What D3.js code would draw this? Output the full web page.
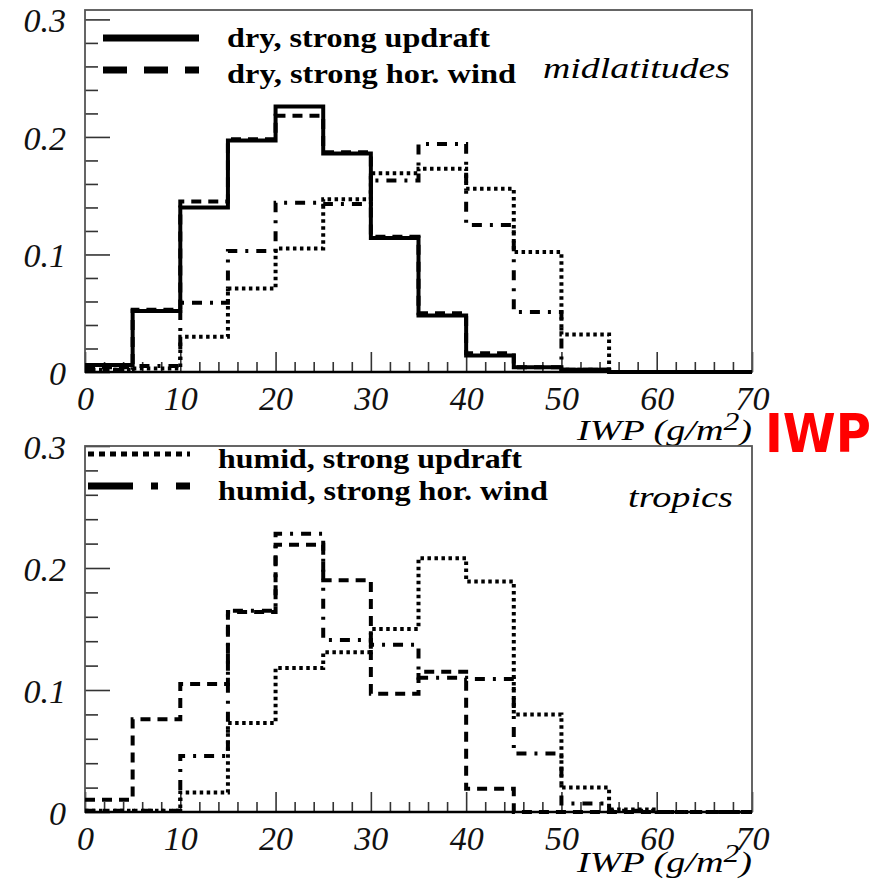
<!DOCTYPE html>
<html>
<head>
<meta charset="utf-8">
<script src="https://cdn.jsdelivr.net/npm/d3@7"></script>
<style>
body { margin: 0; background: #fff; }
text { font-family: "Liberation Serif", "Times New Roman", serif; }
</style>
</head>
<body>
<div id="chart"></div>
<script>

// IWP bins (left edges, g/m2), 5 wide
var binEdges = [0, 5, 10, 15, 20, 25, 30, 35, 40, 45, 50, 55, 60, 65];
var xTickLabels = [0, 10, 20, 30, 40, 50, 60, 70];
var yTickLabels = [0, 0.1, 0.2, 0.3];

// midlatitudes
var midDryUpdraft  = [0.006, 0.052, 0.140, 0.197, 0.226, 0.186, 0.114, 0.048, 0.014, 0.004, 0.002, 0, 0, 0];
var midDryHorWind  = [0.004, 0.053, 0.145, 0.198, 0.218, 0.187, 0.115, 0.050, 0.016, 0.004, 0.002, 0, 0, 0];
var midHumUpdraft  = [0.002, 0.003, 0.030, 0.071, 0.105, 0.147, 0.169, 0.173, 0.156, 0.102, 0.032, 0, 0, 0];
var midHumHorWind  = [0.002, 0.005, 0.059, 0.103, 0.144, 0.143, 0.163, 0.194, 0.125, 0.051, 0.002, 0, 0, 0];

// tropics
var tropDryHorWind = [0.010, 0.076, 0.105, 0.164, 0.219, 0.190, 0.097, 0.115, 0.019, 0, 0, 0, 0, 0];
var tropHumUpdraft = [0.001, 0.001, 0.016, 0.073, 0.118, 0.131, 0.150, 0.208, 0.189, 0.080, 0.020, 0.002, 0, 0];
var tropHumHorWind = [0.001, 0.001, 0.046, 0.165, 0.228, 0.141, 0.137, 0.110, 0.109, 0.048, 0.007, 0.001, 0, 0];

var legendTop = ["dry, strong updraft", "dry, strong hor. wind"];
var legendBottom = ["humid, strong updraft", "humid, strong hor. wind"];

var dashes = { solid: null, dashed: "10,7", dotted: "3.5,3.5", dashdot: "10,8,3,8" };

var svg = d3.select("#chart").append("svg")
    .attr("width", 882)
    .attr("height", 883);

var x = d3.scaleLinear().domain([0, 70]).range([85, 752]);

function drawPanel(p) {
    var y = d3.scaleLinear().domain([0, p.yMax]).range([p.bottom, p.top]);
    var g = svg.append("g");

    // minor ticks
    var minorY = d3.range(1, 16).filter(function (k) { return k % 5 != 0 && k * 0.02 <= p.yMax; })
        .map(function (k) { return k * 0.02; });
    g.append("g")
        .attr("transform", "translate(85,0)")
        .call(d3.axisLeft(y).tickValues(minorY).tickSize(-13).tickFormat(""));
    var minorX = d3.range(2, 70, 2).filter(function (v) { return v % 10 != 0; });
    g.append("g")
        .attr("transform", "translate(0," + p.bottom + ")")
        .call(d3.axisBottom(x).tickValues(minorX).tickSize(-10).tickFormat(""));

    // major ticks + labels
    g.append("g")
        .attr("class", "yaxis")
        .attr("transform", "translate(85,0)")
        .call(d3.axisLeft(y).tickValues(yTickLabels).tickSize(-25).tickPadding(19)
            .tickFormat(function (d) { return d == 0 ? "0" : d.toFixed(1); }));
    g.append("g")
        .attr("class", "xaxis")
        .attr("transform", "translate(0," + p.bottom + ")")
        .call(d3.axisBottom(x).tickValues(xTickLabels).tickSize(-20).tickPadding(14));

    g.selectAll(".domain").remove();
    g.selectAll(".tick line").attr("stroke", "#333").attr("stroke-width", 1.6);
    g.selectAll(".tick text")
        .attr("fill", "#111")
        .style("font-size", "34px")
        .style("font-style", "italic");
    g.selectAll(".yaxis .tick text").attr("dy", "0.36em");

    // frame
    g.append("rect")
        .attr("x", 85).attr("y", p.top)
        .attr("width", 752 - 85).attr("height", p.bottom - p.top)
        .attr("fill", "none").attr("stroke", "#555").attr("stroke-width", 1.8);
    g.append("line")
        .attr("x1", 85).attr("x2", 752)
        .attr("y1", p.bottom).attr("y2", p.bottom)
        .attr("stroke", "#000").attr("stroke-width", 2.4);

    var line = d3.line()
        .x(function (d) { return x(d[0]); })
        .y(function (d) { return y(d[1]); })
        .curve(d3.curveStepAfter);

    p.series.forEach(function (s) {
        var pts = binEdges.map(function (e, i) { return [e, s.values[i]]; });
        pts.push([70, s.values[s.values.length - 1]]);
        g.append("path")
            .datum(pts)
            .attr("d", line)
            .attr("fill", "none")
            .attr("stroke", "#000")
            .attr("stroke-width", 4)
            .attr("stroke-dasharray", dashes[s.style]);
    });

    // legend
    p.legend.forEach(function (l, i) {
        g.append("line")
            .attr("x1", l.x1).attr("x2", l.x2)
            .attr("y1", l.ly).attr("y2", l.ly)
            .attr("stroke", "#000")
            .attr("stroke-width", l.width)
            .attr("stroke-dasharray", l.dash);
        g.append("text")
            .attr("x", l.tx).attr("y", l.ty)
            .attr("textLength", l.tlen)
            .attr("lengthAdjust", "spacingAndGlyphs")
            .style("font-size", "28px")
            .style("font-weight", "bold")
            .text(l.label);
    });

    // region name
    g.append("text")
        .attr("x", p.region.x).attr("y", p.region.y)
        .attr("textLength", p.region.len)
        .attr("lengthAdjust", "spacingAndGlyphs")
        .style("font-size", "30px")
        .style("font-style", "italic")
        .text(p.region.name);

    // axis title
    var t = g.append("g")
        .attr("transform", "translate(752," + p.titleY + ") scale(1.27,1)")
        .append("text")
        .attr("text-anchor", "end")
        .style("font-size", "30px")
        .style("font-style", "italic");
    t.append("tspan").text("IWP (g/m");
    t.append("tspan").attr("dy", -10).style("font-size", "25px").text("2");
    t.append("tspan").attr("dy", 10).text(")");
}

drawPanel({
    top: 10, bottom: 372, yMax: 0.308, titleY: 440,
    series: [
        { values: midHumUpdraft, style: "dotted" },
        { values: midHumHorWind, style: "dashdot" },
        { values: midDryHorWind, style: "dashed" },
        { values: midDryUpdraft, style: "solid" }
    ],
    legend: [
        { label: legendTop[0], x1: 103, x2: 199, ly: 38, width: 7, dash: null, tx: 227, ty: 47, tlen: 263 },
        { label: legendTop[1], x1: 103, x2: 199, ly: 70, width: 7, dash: "24,17", tx: 227, ty: 83, tlen: 289 }
    ],
    region: { name: "midlatitudes", x: 543, y: 78, len: 187 }
});

drawPanel({
    top: 446, bottom: 812, yMax: 0.3, titleY: 872,
    series: [
        { values: tropHumUpdraft, style: "dotted" },
        { values: tropHumHorWind, style: "dashdot" },
        { values: tropDryHorWind, style: "dashed" }
    ],
    legend: [
        { label: legendBottom[0], x1: 88, x2: 190, ly: 454, width: 5, dash: "6,5", tx: 218, ty: 468, tlen: 304 },
        { label: legendBottom[1], x1: 88, x2: 190, ly: 486, width: 7, dash: "45,18,7,18", tx: 218, ty: 500, tlen: 330 }
    ],
    region: { name: "tropics", x: 628, y: 507, len: 105 }
});

// red annotation
svg.append("text")
    .attr("x", 765).attr("y", 452)
    .attr("textLength", 106)
    .attr("lengthAdjust", "spacingAndGlyphs")
    .attr("fill", "#ff0000")
    .style("font-family", "'DejaVu Sans', sans-serif")
    .style("font-size", "54px")
    .style("font-weight", "bold")
    .text("IWP");

</script>
</body>
</html>
